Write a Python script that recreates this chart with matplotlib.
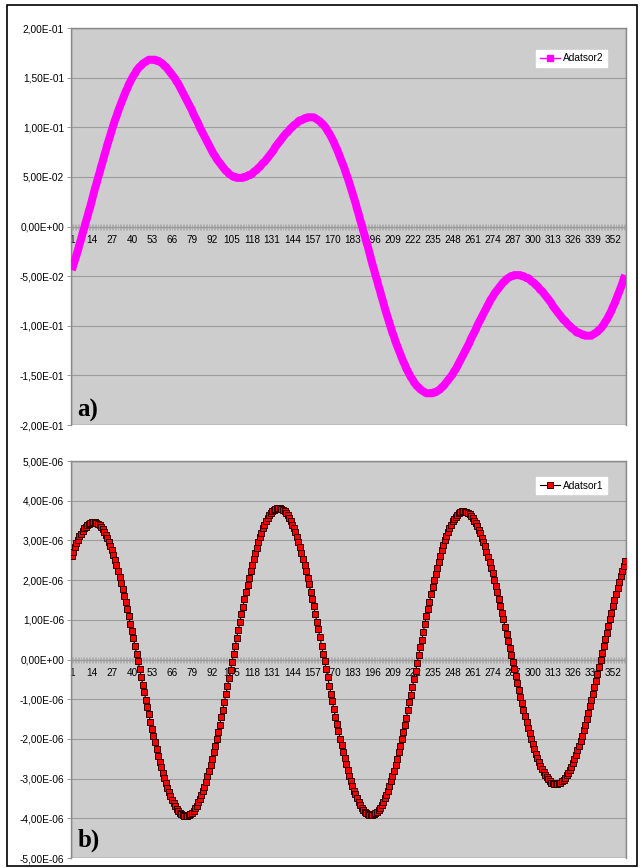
import numpy as np
import matplotlib
matplotlib.use("Agg")
import matplotlib.pyplot as plt
from matplotlib.lines import Line2D
from matplotlib.patches import Rectangle
from matplotlib.ticker import FuncFormatter, MultipleLocator, FixedLocator

plt.rcParams['font.family'] = ['Liberation Sans', 'DejaVu Sans']

# =========================
# DATA
# =========================
CATEGORIES = list(range(1, 361))
TICK_CATS = list(range(1, 361, 13))

# Adatsor2 (panel a), units of 1e-3
ADATSOR2 = [
    -44, -39, -34, -29, -24, -18, -13, -7, -2, 4,
    9, 15, 20, 26, 32, 38, 43, 49, 54, 60,
    65, 71, 76, 82, 87, 92, 97, 102, 107, 111,
    116, 120, 124, 128, 132, 136, 139, 143, 146, 149,
    152, 154, 157, 159, 161, 162, 164, 165, 166, 167,
    168, 168, 168, 168, 168, 167, 167, 166, 165, 164,
    162, 161, 159, 157, 155, 153, 151, 149, 146, 144,
    141, 138, 135, 132, 129, 126, 123, 120, 117, 113,
    110, 107, 104, 100, 97, 94, 91, 88, 85, 82,
    79, 76, 73, 71, 68, 66, 64, 62, 60, 58,
    56, 55, 53, 52, 51, 50, 50, 49, 49, 49,
    49, 49, 50, 50, 51, 52, 52, 53, 55, 56,
    57, 59, 60, 62, 64, 65, 67, 69, 71, 73,
    75, 77, 80, 82, 84, 86, 88, 90, 92, 94,
    95, 97, 99, 100, 102, 103, 104, 106, 107, 107,
    108, 109, 109, 110, 110, 110, 110, 110, 109, 108,
    107, 106, 104, 103, 101, 99, 96, 94, 91, 88,
    85, 81, 78, 74, 70, 66, 62, 58, 53, 49,
    44, 39, 34, 29, 24, 18, 13, 7, 2, -4,
    -9, -15, -20, -26, -32, -38, -43, -49, -54, -60,
    -65, -71, -76, -82, -87, -92, -97, -102, -107, -111,
    -116, -120, -124, -128, -132, -136, -139, -143, -146, -149,
    -152, -154, -157, -159, -161, -162, -164, -165, -166, -167,
    -168, -168, -168, -168, -168, -167, -167, -166, -165, -164,
    -162, -161, -159, -157, -155, -153, -151, -149, -146, -144,
    -141, -138, -135, -132, -129, -126, -123, -120, -117, -113,
    -110, -107, -104, -100, -97, -94, -91, -88, -85, -82,
    -79, -76, -73, -71, -68, -66, -64, -62, -60, -58,
    -56, -55, -53, -52, -51, -50, -50, -49, -49, -49,
    -49, -49, -50, -50, -51, -52, -52, -53, -55, -56,
    -57, -59, -60, -62, -64, -65, -67, -69, -71, -73,
    -75, -77, -80, -82, -84, -86, -88, -90, -92, -94,
    -95, -97, -99, -100, -102, -103, -104, -106, -107, -107,
    -108, -109, -109, -110, -110, -110, -110, -110, -109, -108,
    -107, -106, -104, -103, -101, -99, -96, -94, -91, -88,
    -85, -81, -78, -74, -70, -66, -62, -58, -53, -49,
]

# Adatsor1 (panel b), units of 1e-8
ADATSOR1 = [
    261, 272, 283, 293, 302, 310, 317, 324, 330, 335, 339, 342, 344, 346, 346,
    346, 344, 341, 338, 333, 328, 321, 314, 306, 296, 286, 275, 264, 251, 238,
    224, 209, 193, 178, 161, 144, 126, 109, 90, 72, 53, 34, 15, -5, -24,
    -43, -63, -82, -101, -120, -138, -157, -175, -192, -209, -226, -242, -257, -272, -286,
    -299, -312, -323, -334, -344, -354, -362, -369, -376, -381, -386, -389, -392, -394, -394,
    -394, -392, -389, -386, -381, -375, -368, -360, -352, -342, -331, -320, -308, -294, -280,
    -266, -250, -234, -217, -200, -182, -164, -145, -126, -106, -87, -67, -46, -26, -6,
    14, 35, 55, 75, 94, 114, 133, 152, 170, 188, 205, 222, 238, 254, 268,
    282, 296, 308, 319, 330, 340, 348, 356, 363, 369, 374, 377, 380, 382, 382,
    381, 380, 377, 374, 369, 363, 356, 349, 340, 330, 320, 308, 296, 283, 269,
    254, 239, 223, 206, 189, 171, 152, 134, 115, 95, 76, 56, 35, 15, -5,
    -25, -45, -66, -86, -105, -125, -144, -162, -180, -199, -216, -233, -249, -264, -279,
    -293, -306, -318, -330, -340, -350, -358, -366, -373, -379, -384, -387, -390, -392, -392,
    -392, -390, -387, -384, -379, -373, -367, -359, -350, -341, -330, -319, -307, -294, -280,
    -265, -250, -234, -218, -201, -183, -165, -147, -128, -108, -89, -69, -50, -30, -10,
    11, 31, 50, 70, 89, 109, 128, 146, 164, 182, 199, 215, 231, 246, 261,
    275, 288, 300, 311, 322, 331, 340, 348, 354, 360, 365, 368, 371, 373, 373,
    372, 371, 369, 366, 361, 356, 350, 343, 336, 327, 318, 307, 296, 285, 272,
    259, 246, 231, 217, 201, 185, 169, 153, 136, 118, 101, 83, 65, 47, 30,
    12, -6, -24, -42, -59, -77, -94, -110, -126, -142, -157, -172, -186, -200, -213,
    -226, -237, -248, -258, -268, -277, -284, -291, -297, -302, -306, -310, -312, -314, -314,
    -314, -312, -310, -307, -303, -298, -292, -286, -278, -270, -261, -251, -240, -229, -217,
    -205, -192, -178, -164, -149, -134, -118, -102, -86, -69, -53, -36, -19, -1, 16,
    33, 51, 68, 85, 101, 118, 134, 150, 166, 181, 196, 210, 224, 236, 249,
]

PLOT_BG = "#cdcdcd"
GRID = "#9c9c9c"
BORDER = "#8a8a8a"


def sci_comma(step):
    def fmt(v, pos):
        if abs(v) < step * 1e-6:
            v = 0.0
        return f"{v:.2E}".replace(".", ",")
    return FuncFormatter(fmt)


def style_axis(ax, ylim, ystep):
    ax.set_facecolor(PLOT_BG)
    ax.set_xlim(0.5, 360.5)
    ax.set_ylim(*ylim)
    ax.yaxis.set_major_locator(MultipleLocator(ystep))
    ax.yaxis.set_major_formatter(sci_comma(ystep))
    ax.grid(axis="y", color=GRID, lw=0.8, zorder=0)
    ax.set_axisbelow(True)

    # category axis crosses at zero
    ax.spines["bottom"].set_position(("data", 0))
    ax.spines["bottom"].set_color("#9a9a9a")
    ax.spines["bottom"].set_linewidth(1.0)
    for s in ("top", "right", "left"):
        ax.spines[s].set_color(BORDER)
        ax.spines[s].set_linewidth(1.0)
    ax.add_patch(Rectangle((0, 0), 1, 1, transform=ax.transAxes, fill=False,
                           edgecolor=BORDER, lw=1.0, zorder=1))

    ax.xaxis.set_major_locator(FixedLocator(TICK_CATS))
    ax.xaxis.set_minor_locator(MultipleLocator(1))
    ax.set_xticklabels([str(c) for c in TICK_CATS])
    ax.tick_params(axis="x", which="both", direction="inout", length=4,
                   width=0.5, color="#a4a4a4", labelsize=7.2, pad=4)
    ax.tick_params(axis="y", direction="out", length=3, width=0.6,
                   color=BORDER, labelsize=7.3, pad=2)


fig = plt.figure(figsize=(6.42, 8.68), dpi=100)


def px_axes(l, t, r, b):
    return fig.add_axes([l / 642, 1 - b / 868, (r - l) / 642, (b - t) / 868])


# ---- panel a ----
ax_a = px_axes(71, 28, 626, 425)
style_axis(ax_a, (-0.2, 0.2), 0.05)
# markers merge into one thick band in the original, so draw it as a wide line
ax_a.plot(CATEGORIES, np.array(ADATSOR2) * 1e-3, color="#ff00ff", lw=5.8,
          zorder=3, solid_capstyle="butt", solid_joinstyle="round")
handle_a = Line2D([], [], color="#ff00ff", lw=1.0, marker="s", ms=4.2,
                  mfc="#ff00ff", mec="#ff00ff")
ax_a.legend([handle_a], ["Adatsor2"], loc="upper right",
            bbox_to_anchor=(0.975, 0.958), fontsize=7.3, frameon=True,
            fancybox=False, framealpha=1, edgecolor="white",
            handlelength=2.0, handletextpad=0.3, borderpad=0.35)
ax_a.text(0.012, 0.036, "a)", transform=ax_a.transAxes, fontsize=18,
          fontweight="bold", family=["Liberation Serif", "DejaVu Serif"],
          va="center", ha="left", zorder=5)

# ---- panel b ----
ax_b = px_axes(71, 461, 626, 858)
style_axis(ax_b, (-5e-6, 5e-6), 1e-6)
ax_b.plot(CATEGORIES, np.array(ADATSOR1) * 1e-8, color="black", lw=0.8,
          marker="s", ms=4.3, mfc="#ff0000", mec="#300000", mew=0.7,
          label="Adatsor1", zorder=3)
ax_b.legend(loc="upper right", bbox_to_anchor=(0.975, 0.972), fontsize=7.3,
            frameon=True, fancybox=False, framealpha=1, edgecolor="white",
            handlelength=2.0, handletextpad=0.3, borderpad=0.35)
ax_b.text(0.012, 0.044, "b)", transform=ax_b.transAxes, fontsize=18,
          fontweight="bold", family=["Liberation Serif", "DejaVu Serif"],
          va="center", ha="left", zorder=5)

# outer frame
fig.add_artist(Rectangle((7 / 642, 1 - 866 / 868), 630 / 642, 861 / 868,
                         transform=fig.transFigure, fill=False,
                         edgecolor="black", lw=1.2))

fig.savefig("out.png", dpi=100)
